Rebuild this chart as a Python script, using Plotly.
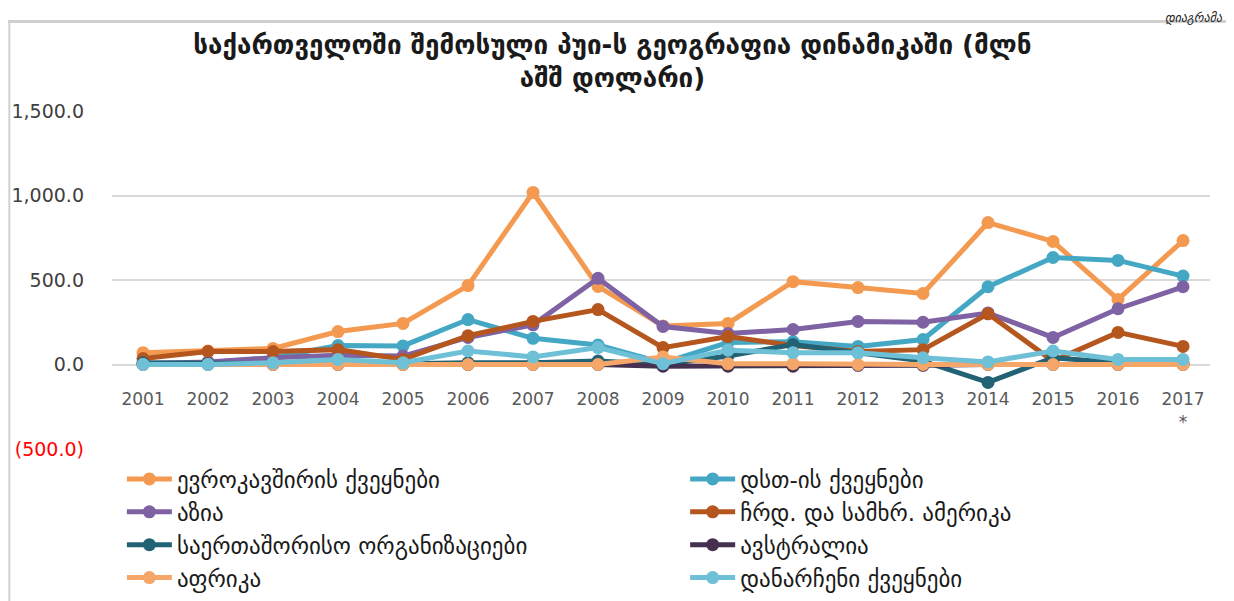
import plotly.graph_objects as go

years = list(range(2001, 2018))
year_labels = [str(y) for y in years[:-1]] + ["2017<br>*"]

eu = [70, 80, 95, 195, 243, 467, 1018, 462, 228, 243, 490, 455, 420, 840, 728, 385, 733]
cis = [5, 10, 40, 112, 110, 266, 155, 115, 10, 130, 135, 107, 148, 460, 633, 616, 523]
asia = [5, 15, 40, 55, 50, 160, 235, 510, 225, 183, 207, 255, 250, 305, 160, 330, 460]
america = [35, 77, 77, 88, 30, 170, 255, 325, 100, 165, 112, 77, 88, 300, 20, 190, 107]
intl = [10, 5, 5, 10, 5, 10, 10, 20, 0, 50, 118, 70, 20, -106, 40, 10, 10]
australia = [0, 0, 0, 0, 0, 0, 0, 0, -10, -10, -10, -5, -5, 0, 0, 0, 0]
africa = [0, 0, 0, 0, 0, 0, 0, 0, 45, 5, 5, 0, 0, 0, 0, 0, 0]
others = [0, 0, 10, 30, 10, 80, 45, 100, 5, 85, 70, 70, 40, 15, 80, 30, 30]

# (name, values, colour, legend column)
series = [
    ("ევროკავშირის ქვეყნები", eu, "#F39A50", "legend"),
    ("დსთ-ის ქვეყნები", cis, "#44A8C4", "legend2"),
    ("აზია", asia, "#7E62A3", "legend"),
    ("ჩრდ. და სამხრ. ამერიკა", america, "#B5561F", "legend2"),
    ("საერთაშორისო ორგანიზაციები", intl, "#236174", "legend"),
    ("ავსტრალია", australia, "#45304F", "legend2"),
    ("აფრიკა", africa, "#F5A76A", "legend"),
    ("დანარჩენი ქვეყნები", others, "#6DC0D5", "legend2"),
]

y_ticks = [-500, 0, 500, 1000, 1500]
y_tick_text = ["<span style='color:#FF0000'>(500.0)</span>", "0.0", "500.0", "1,000.0", "1,500.0"]

fig = go.Figure()
for name, vals, color, leg in series:
    fig.add_trace(go.Scatter(
        x=years, y=vals, name=name, mode="lines+markers",
        line=dict(color=color, width=5),
        marker=dict(color=color, size=13),
        legend=leg, legendgroup=name,
    ))

font = "DejaVu Sans"
legend_style = dict(
    orientation="v", yanchor="top", xanchor="left", y=-0.025,
    font=dict(size=23, color="#1a1a1a", family=font),
    bgcolor="rgba(0,0,0,0)", tracegroupgap=0, itemwidth=45,
)

# page has an 8px body margin, so the figure is 8px smaller than the window
fig.update_layout(
    width=1226, height=593,
    margin=dict(l=104, r=24, t=103, b=152, autoexpand=False),
    paper_bgcolor="white", plot_bgcolor="white",
    font=dict(family=font, color="#404040"),
    title=dict(
        text="<b>საქართველოში შემოსული პუი-ს გეოგრაფია დინამიკაში (მლნ<br>აშშ დოლარი)</b>",
        x=0.493, xanchor="center", y=0.923, yanchor="top",
        font=dict(size=26, color="#1a1a1a", family=font),
    ),
    xaxis=dict(
        range=[2000.523, 2017.415], tickvals=years, ticktext=year_labels,
        anchor="free", position=0.2485, showgrid=False, zeroline=False,
        showline=False, ticks="outside", ticklen=19, tickcolor="rgba(0,0,0,0)",
        tickfont=dict(size=17, color="#595959"),
    ),
    yaxis=dict(
        range=[-500, 1500], tickvals=y_ticks, ticktext=y_tick_text,
        showgrid=True, gridcolor="#D9D9D9", gridwidth=1.5, zeroline=False,
        tickfont=dict(size=19, color="#404040"), ticks="", ticklabelstandoff=27,
    ),
    legend=dict(legend_style, x=0.009),
    legend2=dict(legend_style, x=0.522),
    shapes=[
        dict(type="line", xref="paper", yref="paper", x0=-0.11, x1=1.03,
             y0=1.265, y1=1.265, line=dict(color="#D0D0D0", width=3)),
        dict(type="line", xref="paper", yref="paper", x0=-0.0935, x1=-0.0935,
             y0=1.265, y1=-0.46, line=dict(color="#D0D0D0", width=2)),
    ],
    annotations=[
        dict(text="<i>დიაგრამა</i>", xref="paper", yref="paper", x=1.014, y=1.303,
             xanchor="right", yanchor="top", showarrow=False,
             font=dict(size=12, color="#1a1a1a", family=font)),
    ],
)

fig.write_html("out.html")
